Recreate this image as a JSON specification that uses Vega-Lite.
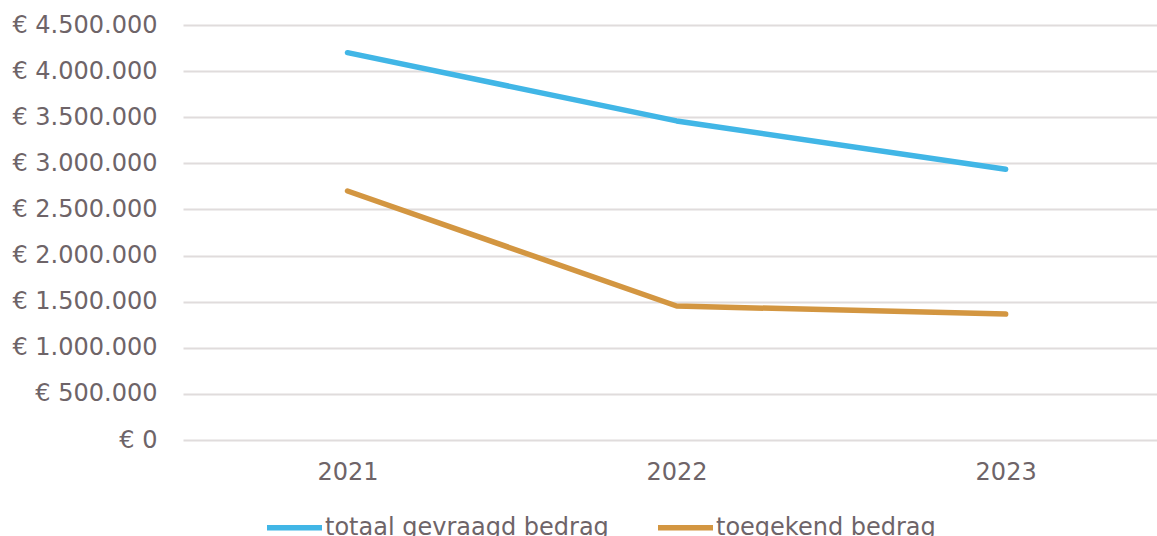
{
  "$schema": "https://vega.github.io/schema/vega-lite/v6.json",
  "autosize": "none",
  "width": 974,
  "height": 415,
  "padding": {"left": 183, "top": 25, "right": 0, "bottom": 96},
  "background": "white",
  "config": {
    "font": "DejaVu Sans",
    "view": {"stroke": null}
  },
  "data": {
    "values": [
      {"jaar": 2021, "reeks": "totaal gevraagd bedrag", "bedrag": 4200000},
      {"jaar": 2022, "reeks": "totaal gevraagd bedrag", "bedrag": 3460000},
      {"jaar": 2023, "reeks": "totaal gevraagd bedrag", "bedrag": 2935000},
      {"jaar": 2021, "reeks": "toegekend bedrag", "bedrag": 2700000},
      {"jaar": 2022, "reeks": "toegekend bedrag", "bedrag": 1453000},
      {"jaar": 2023, "reeks": "toegekend bedrag", "bedrag": 1365000}
    ]
  },
  "mark": {"type": "line", "strokeWidth": 5.5, "strokeCap": "round", "strokeJoin": "round"},
  "encoding": {
    "x": {
      "field": "jaar",
      "type": "quantitative",
      "scale": {"domain": [2020.5, 2023.46], "nice": false, "zero": false},
      "axis": {
        "title": null,
        "values": [2021, 2022, 2023],
        "format": "d",
        "grid": false,
        "domain": false,
        "ticks": false,
        "labelFontSize": 24,
        "labelColor": "#6e6468",
        "labelPadding": 20,
        "labelFont": "DejaVu Sans"
      }
    },
    "y": {
      "field": "bedrag",
      "type": "quantitative",
      "scale": {"domain": [0, 4500000], "nice": false},
      "axis": {
        "title": null,
        "values": [0, 500000, 1000000, 1500000, 2000000, 2500000, 3000000, 3500000, 4000000, 4500000],
        "labelExpr": "'€ ' + replace(format(datum.value, ',d'), /,/g, '.')",
        "grid": true,
        "gridColor": "#e0dcdc",
        "gridWidth": 2,
        "domain": false,
        "ticks": false,
        "labelFontSize": 24,
        "labelColor": "#6e6468",
        "labelPadding": 26,
        "labelFont": "DejaVu Sans"
      }
    },
    "color": {
      "field": "reeks",
      "type": "nominal",
      "sort": ["totaal gevraagd bedrag", "toegekend bedrag"],
      "scale": {
        "domain": ["totaal gevraagd bedrag", "toegekend bedrag"],
        "range": ["#41b6e6", "#d39641"]
      },
      "legend": {
        "title": null,
        "orient": "none",
        "direction": "horizontal",
        "legendX": 81,
        "legendY": 472,
        "symbolType": "stroke",
        "symbolSize": 3025,
        "symbolStrokeWidth": 5.5,
        "labelFontSize": 24,
        "labelColor": "#6e6468",
        "labelFont": "DejaVu Sans",
        "labelOffset": 0,
        "columnPadding": 38,
        "labelLimit": 400
      }
    }
  }
}
